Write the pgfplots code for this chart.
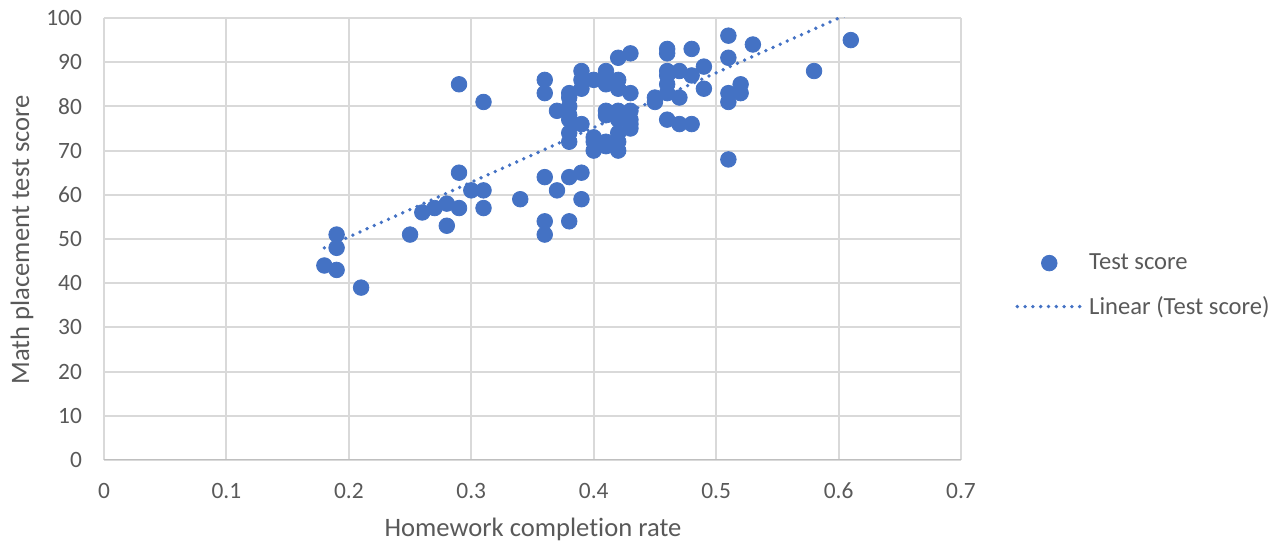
\documentclass[border=0pt]{standalone}
\usepackage{pgfplots}
\pgfplotsset{compat=1.18}
\usepackage{fontspec}
\setmainfont{Carlito}[Ligatures=NoCommon]

\definecolor{xlblue}{HTML}{4472C4}
\definecolor{xlgrid}{HTML}{D9D9D9}
\definecolor{xlaxis}{HTML}{BFBFBF}
\definecolor{xltext}{HTML}{595959}

\pgfplotsset{
  marklegend/.style={
    legend image code/.code={
      \draw[mark repeat=2, mark phase=2, ##1] plot coordinates {(0pt,0pt) (17pt,0pt) (34pt,0pt)};
    }},
  linelegend/.style={
    legend image code/.code={
      \draw[##1] (1pt,0pt) -- (34pt,0pt);
    }},
}

\begin{document}
\begin{tikzpicture}
\useasboundingbox (-52pt,-42pt) rectangle (585.5pt,230pt);
\begin{axis}[
  at={(0,0)}, anchor=south west,
  scale only axis,
  width=428.5pt, height=221pt,
  xmin=0, xmax=0.7, ymin=0, ymax=100,
  xtick={0,0.1,...,0.7}, ytick={0,10,...,100},
  xticklabels={0,0.1,0.2,0.3,0.4,0.5,0.6,0.7},
  grid=major,
  major grid style={xlgrid, line width=1pt},
  axis line style={draw=none},
  major tick length=0pt,
  tick label style={font=\fontsize{11.7}{14}\selectfont, text=xltext},
  /pgf/number format/assume math mode=true,
  xticklabel style={anchor=center, yshift=-15.5pt},
  yticklabel style={anchor=east, xshift=-7.5pt},
  xlabel={Homework completion rate},
  ylabel={Math placement test score},
  label style={font=\fontsize{13.3}{16}\selectfont, text=xltext},
  xlabel style={at={(axis description cs:0.5006,-0.158)}, anchor=center},
  ylabel style={at={(axis description cs:-0.0957,0.498)}, anchor=center},
  legend style={
    at={(axis description cs:1.063,0.395)}, anchor=west,
    draw=none, fill=none,
    font=\fontsize{12.3}{14.5}\selectfont, text=xltext,
    row sep=7.8pt, inner sep=0pt,
    nodes={inner sep=2pt},
  },
  legend cell align=left,
  clip=true,
]

% bottom axis line
\draw[xlaxis, line width=1pt] (axis cs:0,0) -- (axis cs:0.7,0);

% scores against completion rate
\addplot[only marks, mark=*, mark size=3.9pt,
  mark options={fill=xlblue, draw=xlblue}, marklegend] coordinates {
  (0.18,44) (0.19,51) (0.19,48) (0.19,43) (0.21,39)
  (0.25,51) (0.26,56) (0.27,57) (0.28,58) (0.28,53)
  (0.29,57) (0.29,65) (0.29,85) (0.30,61) (0.31,61)
  (0.31,57) (0.31,81) (0.34,59)
  (0.36,86) (0.36,83) (0.36,64) (0.36,54) (0.36,51)
  (0.37,79) (0.37,61)
  (0.38,83) (0.38,82) (0.38,80) (0.38,78) (0.38,77)
  (0.38,74) (0.38,72) (0.38,64) (0.38,54)
  (0.39,88) (0.39,86) (0.39,84) (0.39,76) (0.39,65) (0.39,59)
  (0.40,86) (0.40,73) (0.40,72) (0.40,70)
  (0.41,88) (0.41,86) (0.41,85) (0.41,79) (0.41,78) (0.41,72) (0.41,71)
  (0.42,91) (0.42,86) (0.42,84) (0.42,79) (0.42,77) (0.42,74) (0.42,72) (0.42,70)
  (0.43,92) (0.43,83) (0.43,79) (0.43,77) (0.43,76) (0.43,75)
  (0.45,82) (0.45,81)
  (0.46,93) (0.46,92) (0.46,88) (0.46,87) (0.46,85) (0.46,83) (0.46,77)
  (0.47,88) (0.47,82) (0.47,76)
  (0.48,93) (0.48,87) (0.48,76)
  (0.49,89) (0.49,84)
  (0.51,96) (0.51,91) (0.51,83) (0.51,81) (0.51,68)
  (0.52,85) (0.52,83) (0.53,94)
  (0.58,88) (0.61,95)
};
\addlegendentry{Test score}

% least-squares trend line
\addplot[xlblue, line width=1.9pt, line cap=round,
  dash pattern=on 0pt off 3.9pt, linelegend]
  coordinates {(0.18,48.0) (0.61,101.2)};
\addlegendentry{Linear (Test score)}

\end{axis}
\end{tikzpicture}
\end{document}
